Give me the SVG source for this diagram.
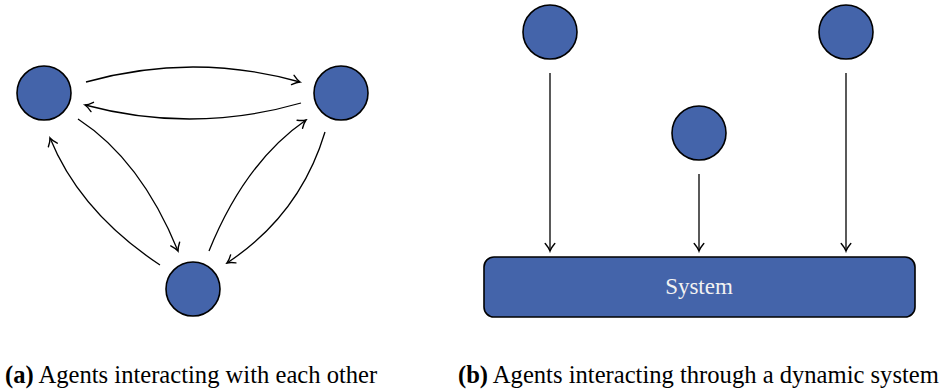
<svg xmlns="http://www.w3.org/2000/svg" width="948" height="390" viewBox="0 0 948 390">
<style>
.agent{fill:#4464aa;stroke:#000;stroke-width:1.6}
.edge{fill:none;stroke:#000;stroke-width:1.3;marker-end:url(#arr)}
.cap{font-family:"Liberation Serif",serif;font-size:24.6px;fill:#000}
</style>
<defs>
<marker id="arr" viewBox="-10 -6 12 12" refX="0" refY="0" markerWidth="12" markerHeight="12" markerUnits="userSpaceOnUse" orient="auto">
<path d="M-7.5,-4.8 Q-3,-1 0,0 Q-3,1 -7.5,4.8" fill="none" stroke="#000" stroke-width="1.4" stroke-linecap="round"/>
</marker>
</defs>
<rect width="948" height="390" fill="#fff"/>
<g id="connectors">
<path class="edge" d="M86,82 Q193,52 300,82"/>
<path class="edge" d="M301,103 Q193,134 85,105"/>
<path class="edge" d="M78,119 Q141,160 178,251"/>
<path class="edge" d="M160,265 Q80,212 50,138"/>
<path class="edge" d="M209,251 Q245,162 306,120"/>
<path class="edge" d="M325,132 Q300,215 227,263"/>
<path class="edge" d="M550,73 L550,251"/>
<path class="edge" d="M699,174 L699,251"/>
<path class="edge" d="M846,73 L846,251"/>
</g>
<g id="a1"><circle class="agent" cx="44" cy="93" r="27"/></g>
<g id="a2"><circle class="agent" cx="341" cy="93" r="27"/></g>
<g id="a3"><circle class="agent" cx="193" cy="289" r="27"/></g>
<g id="b1"><circle class="agent" cx="550" cy="32" r="27"/></g>
<g id="b2"><circle class="agent" cx="699" cy="133" r="27"/></g>
<g id="b3"><circle class="agent" cx="846" cy="32" r="27"/></g>
<g id="system">
<rect x="484" y="257" width="431" height="60" rx="10" fill="#4464aa" stroke="#000" stroke-width="1.6"/>
<text x="699" y="294" text-anchor="middle" font-family="Liberation Serif, serif" font-size="23" fill="#f2f2f2">System</text>
</g>
<text class="cap" x="5" y="383"><tspan font-weight="bold">(a)</tspan> Agents interacting with each other</text>
<text class="cap" x="458" y="383"><tspan font-weight="bold">(b)</tspan> Agents interacting through a dynamic system</text>
</svg>
